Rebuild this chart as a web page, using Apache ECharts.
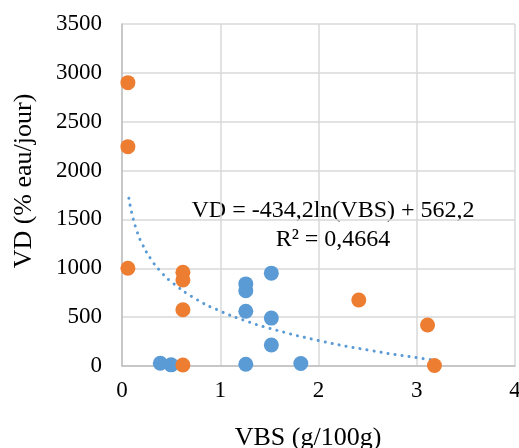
<!DOCTYPE html>
<html style="height: 100%">
<head>
    <meta charset="utf-8">
</head>
<body style="height: 100%; margin: 0; background-color: #fff;">
<div id="container" style="width: 519px; height: 448px"></div>
<script type="text/javascript" src="https://cdn.jsdelivr.net/npm/echarts@6/dist/echarts.min.js"></script>
<script type="text/javascript">
    // points: [VBS, VD]
    var orangePts = [
        [0.06, 2900], [0.06, 2245], [0.06, 1000],
        [0.62, 960], [0.62, 880], [0.62, 575], [0.62, 10],
        [2.41, 675], [3.11, 420], [3.18, 5]
    ];
    var bluePts = [
        [0.39, 28], [0.50, 12], [1.26, 18], [1.26, 840], [1.26, 770],
        [1.26, 560], [1.52, 950], [1.52, 490], [1.52, 215], [1.82, 25]
    ];
    // dotted log trendline
    var trendX = [0.07, 0.1, 0.15, 0.2, 0.3, 0.4, 0.5, 0.75, 1.0, 1.25, 1.5, 2.0, 2.5, 3.0, 3.18];
    var trendY = [1717, 1562, 1386, 1261, 1085, 960, 863, 687, 562, 465, 386, 261, 164, 85, 60];
    var eqText = ['VD = -434,2ln(VBS) + 562,2', 'R\u00b2 = 0,4664'];
    var xName = 'VBS (g/100g)';
    var yName = 'VD (% eau/jour)';

    var dom = document.getElementById("container");
    var myChart = echarts.init(dom);
    var font = 'Liberation Serif';
    var plain = function (v) { return String(v); };

    var option = {
        animation: false,
        textStyle: { fontFamily: font },
        grid: { left: 122, right: 4, top: 24, bottom: 82, outerBoundsMode: 'none' },
        xAxis: {
            type: 'value',
            min: 0, max: 4, interval: 1,
            axisLine: { lineStyle: { color: '#bfbfbf', width: 1.5 } },
            axisTick: { show: false },
            axisLabel: { fontFamily: font, fontSize: 23, color: '#000', margin: 13, formatter: plain },
            splitLine: { lineStyle: { color: '#d9d9d9', width: 1.5 } }
        },
        yAxis: {
            type: 'value',
            min: 0, max: 3500, interval: 500,
            axisLine: { show: true, lineStyle: { color: '#bfbfbf', width: 1.5 } },
            axisTick: { show: false },
            axisLabel: { fontFamily: font, fontSize: 23, color: '#000', margin: 20, formatter: plain },
            splitLine: { lineStyle: { color: '#d9d9d9', width: 1.5 } }
        },
        series: [
            {
                type: 'line',
                data: trendX.map(function (x, i) { return [x, trendY[i]]; }),
                smooth: true,
                showSymbol: false,
                lineStyle: { color: '#5B9BD5', width: 3, type: [0.1, 7], cap: 'round' },
                z: 1
            },
            {
                type: 'scatter',
                data: bluePts,
                symbolSize: 15,
                itemStyle: { color: '#5B9BD5', opacity: 1 },
                z: 3
            },
            {
                type: 'scatter',
                data: orangePts,
                symbolSize: 15,
                itemStyle: { color: '#ED7D31', opacity: 1 },
                z: 3
            }
        ],
        graphic: [
            {
                type: 'text', x: 333, y: 211,
                style: { text: eqText[0], font: '24px "Liberation Serif"', fill: '#000', align: 'center', verticalAlign: 'middle' }
            },
            {
                type: 'text', x: 333, y: 240,
                style: { text: eqText[1], font: '24px "Liberation Serif"', fill: '#000', align: 'center', verticalAlign: 'middle' }
            },
            {
                type: 'text', x: 308, y: 438,
                style: { text: xName, font: '26px "Liberation Serif"', fill: '#000', align: 'center', verticalAlign: 'middle' }
            },
            {
                type: 'text', x: 24, y: 181, rotation: Math.PI / 2,
                style: { text: yName, font: '26px "Liberation Serif"', fill: '#000', align: 'center', verticalAlign: 'middle' }
            }
        ]
    };
    myChart.setOption(option);
</script>
</body>
</html>
